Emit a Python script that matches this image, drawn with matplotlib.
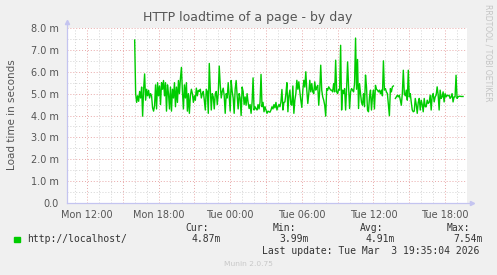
import numpy as np
import pandas as pd
import matplotlib
matplotlib.use("Agg")
import matplotlib.pyplot as plt
import matplotlib.dates as mdates
from matplotlib.patches import Rectangle

# ======================== DATA ============================
# load time (ms), 5-minute samples starting Mon 16:00
load_mon_eve = [7.45, 5.0, 4.6, 4.9, 4.65, 5.1, 4.8, 5.3, 3.97, 5.2, 5.9, 4.7, 5.2, 4.9, 5.15,
                4.8, 5.0, 4.9, 4.35, 4.2, 4.45, 5.4, 4.3, 5.5, 4.9, 5.35, 4.5, 5.5, 5.2, 5.6,
                4.9, 5.5, 4.2, 5.4, 5.0, 4.3, 5.3, 4.2, 5.2, 4.8, 5.5, 4.4, 5.3, 4.6, 5.6,
                5.0, 5.7, 6.2, 5.1, 4.3, 5.4, 4.8, 5.5, 4.2, 5.0]
load_mon_night = [4.1, 4.9, 5.2, 5.0, 4.6, 4.9, 4.7, 5.25, 4.9, 5.15, 5.1, 5.2, 4.8, 5.0, 5.1,
                  4.7, 4.25, 5.2, 5.1, 4.1, 6.38, 5.2, 4.25, 5.0, 4.85, 4.3, 5.0, 5.1, 4.5, 5.0,
                  6.26, 5.4, 4.8, 5.1, 5.25, 4.9, 4.1, 5.0, 4.8, 5.5, 4.9, 4.2, 5.6, 5.1, 4.8,
                  4.1, 5.2, 5.6, 4.9, 4.3, 5.0, 4.8, 4.0, 5.3, 5.1, 4.5]
load_tue_early = [4.85, 4.47, 5.0, 4.6, 4.32, 4.5, 4.1, 4.6, 5.72, 4.25, 4.4, 4.3, 4.25, 4.5, 4.3,
                  4.6, 5.88, 4.4, 4.6, 4.17, 4.4, 4.25, 4.1, 4.2, 4.17, 4.15, 4.25, 4.4, 4.3, 4.5,
                  4.35, 4.6, 4.25, 4.4, 4.5, 4.4, 4.62, 5.19, 4.25, 4.6, 4.62, 5.0, 5.5, 4.17, 4.9,
                  5.16, 4.5, 4.47, 5.35, 4.1, 4.7, 5.0, 5.61, 5.2, 5.54]
load_tue_morning = [5.08, 4.7, 4.37, 5.16, 5.61, 5.3, 6.0, 5.16, 4.55, 5.0, 5.61, 5.08, 5.46, 5.08, 5.0,
                    5.54, 5.16, 5.3, 5.38, 4.47, 5.16, 6.3, 5.16, 4.85, 4.7, 4.47, 3.97, 5.23, 5.16, 5.31,
                    5.23, 5.16, 5.16, 5.08, 5.46, 5.08, 6.53, 5.08, 5.0, 5.2, 5.16, 7.21, 4.25, 5.16, 5.0,
                    5.23, 4.25, 5.23, 6.45, 5.31, 4.32, 5.08, 5.23, 5.16, 5.08, 5.46, 7.54]
load_tue_noon = [5.2, 6.56, 4.32, 5.46, 5.0, 4.6, 4.47, 5.0, 4.4, 5.85, 5.31, 4.25, 4.17, 4.85, 5.16,
                 4.25, 4.85, 5.16, 4.3, 5.38, 5.2, 5.16, 5.08, 5.16, 5.0, 5.16, 4.9, 6.5, 5.16, 5.23,
                 5.08, 5.0, 4.5, 3.99, 5.23, 5.08, 5.31, 5.35, np.nan, 4.78, 4.85, 4.93, 4.85, 4.93, 4.7,
                 4.47, 5.0, 6.07, 5.0, 4.9, 5.16, 4.7, 6.07, 4.85]
load_tue_aft = [5.0, 4.6, 4.25, 4.17, 4.2, 4.78, 4.5, 4.1, 4.6, 4.78, 4.25, 4.7, 4.5, 4.17, 4.78,
                4.4, 4.4, 4.7, 4.55, 4.6, 4.93, 4.25, 4.9, 5.0, 4.62, 4.85, 4.93, 5.31, 4.95, 4.25,
                5.16, 4.78, 4.85, 5.08, 4.62, 5.0, 4.85, 4.93, 4.9, 4.93, 4.78, 4.85, 5.0, 4.62, 4.85,
                4.85, 5.84, 4.78, 4.85, 4.88, 4.88, 4.87, 4.87, 4.87]

series_label = "http://localhost/"
stat_names = ["Cur:", "Min:", "Avg:", "Max:"]
stat_values = ["4.87m", "3.99m", "4.91m", "7.54m"]
y_ticks = [0, 1, 2, 3, 4, 5, 6, 7, 8]
y_tick_labels = ["0.0", "1.0 m", "2.0 m", "3.0 m", "4.0 m", "5.0 m", "6.0 m", "7.0 m", "8.0 m"]

load = np.array(load_mon_eve + load_mon_night + load_tue_early + load_tue_morning
                + load_tue_noon + load_tue_aft)
times = pd.date_range("2026-03-02 16:00", periods=len(load), freq="5min")

# ======================== PLOTTING ===================
W, H = 497, 275
fig = plt.figure(figsize=(W / 100, H / 100), dpi=100, facecolor="#f0f0f0")

def fx(x):
    return x / W

def fy(y):
    return 1 - y / H

ax = fig.add_axes([fx(67), fy(203), 400 / W, 175 / H])
ax.set_facecolor("white")

ax.set_xlim(pd.Timestamp("2026-03-02 10:20"), pd.Timestamp("2026-03-03 19:50"))
ax.set_ylim(0, 8)

ax.xaxis.set_major_locator(mdates.HourLocator(byhour=[0, 6, 12, 18]))
ax.xaxis.set_major_formatter(mdates.DateFormatter("%a %H:%M"))
ax.xaxis.set_minor_locator(mdates.HourLocator())
ax.set_yticks(y_ticks)
ax.set_yticklabels(y_tick_labels)

# grid: hourly / half-unit grey, 3-hourly / unit red
for t in pd.date_range("2026-03-02 11:00", "2026-03-03 19:00", freq="1h"):
    c = "#e8a8a8" if t.hour % 3 == 0 else "#d4d4d4"
    ax.axvline(t, color=c, lw=0.7, ls=(0, (1, 2)), zorder=1)
for v in np.arange(0.5, 8.01, 0.5):
    c = "#e8a8a8" if v % 1 == 0 else "#d4d4d4"
    ax.axhline(v, color=c, lw=0.7, ls=(0, (1, 2)), zorder=1)

ax.tick_params(which="both", length=0, labelsize=7, colors="#555555", pad=5)
ax.tick_params(axis="y", pad=6)
for s in ax.spines.values():
    s.set_visible(False)

ax.plot(times, load, color="#00cc00", lw=1.0, zorder=3)

# axis lines with arrows
axc = "#c4c4f0"
ax.plot([0, 0], [0, 1.035], color=axc, lw=0.9, transform=ax.transAxes, clip_on=False)
ax.plot([0, 1.012], [0, 0], color=axc, lw=0.9, transform=ax.transAxes, clip_on=False)
ax.plot([0], [1.035], marker="^", ms=3, color=axc, transform=ax.transAxes, clip_on=False)
ax.plot([1.012], [0], marker=">", ms=3, color=axc, transform=ax.transAxes, clip_on=False)

fig.text(fx(248), fy(18), "HTTP loadtime of a page - by day", ha="center", va="center",
         fontsize=9, color="#555555")
fig.text(fx(12), fy(115), "Load time in seconds", rotation=90, ha="center", va="center",
         fontsize=7.5, color="#555555")
fig.text(fx(488), fy(53), "RRDTOOL / TOBI OETIKER", rotation=270, ha="center", va="center",
         fontsize=5.5, color="#c4c4c4")

# legend
fig.patches.append(Rectangle((fx(14), fy(242)), 5.5 / W, 5.5 / H, color="#00cc00",
                             transform=fig.transFigure, figure=fig))
mono = dict(family="DejaVu Sans Mono", fontsize=7, color="#333333", va="center")
fig.text(fx(27), fy(239.5), series_label, **mono)
name_x = [185.5, 272.5, 360, 447]
val_x = [191.5, 279, 366, 453]
for nx, vx, n, v in zip(name_x, val_x, stat_names, stat_values):
    fig.text(fx(nx), fy(228), n, **mono)
    fig.text(fx(vx), fy(239.5), v, **mono)
fig.text(fx(261.5), fy(251.5), "Last update: Tue Mar  3 19:35:04 2026", **mono)
fig.text(fx(248), fy(264.5), "Munin 2.0.75", ha="center", va="center",
         fontsize=5.4, color="#c8c8c8")

fig.savefig("out.png", dpi=100, facecolor=fig.get_facecolor())
